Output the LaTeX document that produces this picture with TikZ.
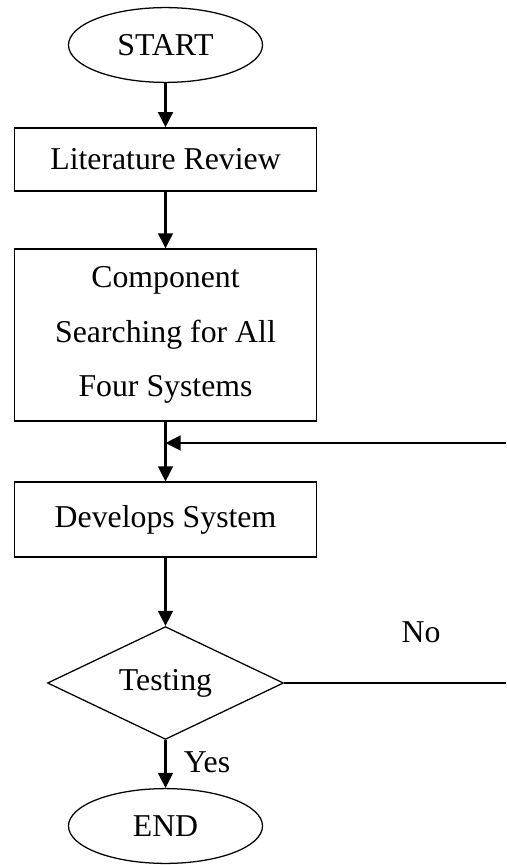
\documentclass[tikz,border=0pt]{standalone}
\usepackage{fontspec}
\setmainfont{Liberation Serif}
\usetikzlibrary{shapes.geometric,arrows.meta}

\newcommand{\flowfont}{\fontsize{22.6}{39}\selectfont}

\tikzset{
  flowbox/.style={draw, line width=0.9pt, minimum width=7.55cm, inner sep=0pt, align=center, font=\flowfont},
  termbox/.style={draw, ellipse, line width=0.9pt, minimum width=4.85cm, minimum height=1.87cm, inner sep=0pt, font=\flowfont},
  testbox/.style={draw, diamond, aspect=2, line width=0.9pt, minimum width=5.9cm, minimum height=2.82cm, inner sep=0pt, font=\flowfont},
  flowarrow/.style={line width=1.5pt, -{Triangle[width=10.5pt,length=10.7pt]}},
  flowline/.style={line width=1.3pt}
}

\begin{document}
\begin{tikzpicture}[x=0.025cm,y=-0.025cm]
  \useasboundingbox (0,0) rectangle (506,865);

  % Steps of the flow
  \node[termbox] (start) at (165.5,45) {START};
  \node[flowbox, minimum height=1.58cm] (lit) at (165.5,159.5) {Literature Review};
  \node[flowbox, minimum height=4.3cm] (comp) at (165.5,335) {Component\\Searching for All\\Four Systems};
  \node[flowbox, minimum height=1.87cm] (dev) at (165.5,519.5) {Develops System};
  \node[testbox] (test) at (165.5,683) {Testing};
  \node[termbox] (end) at (165.5,826) {END};

  % Loop back points
  \coordinate (noend) at (506,683);
  \coordinate (backin) at (506,443);
  \coordinate (join) at (165.5,443);

  % Connectors
  \draw[flowarrow] (start) -- (lit);
  \draw[flowarrow] (lit) -- (comp);
  \draw[flowarrow] (comp) -- (dev);
  \draw[flowarrow] (dev) -- (test);
  \draw[flowarrow] (test) -- (end);
  \draw[flowline] (test.east) -- (noend);
  \draw[flowarrow] (backin) -- (join);

  % Labels
  \node[font=\flowfont] (nolbl) at (421,632) {No};
  \node[font=\flowfont] (yeslbl) at (207,762) {Yes};
\end{tikzpicture}
\end{document}
